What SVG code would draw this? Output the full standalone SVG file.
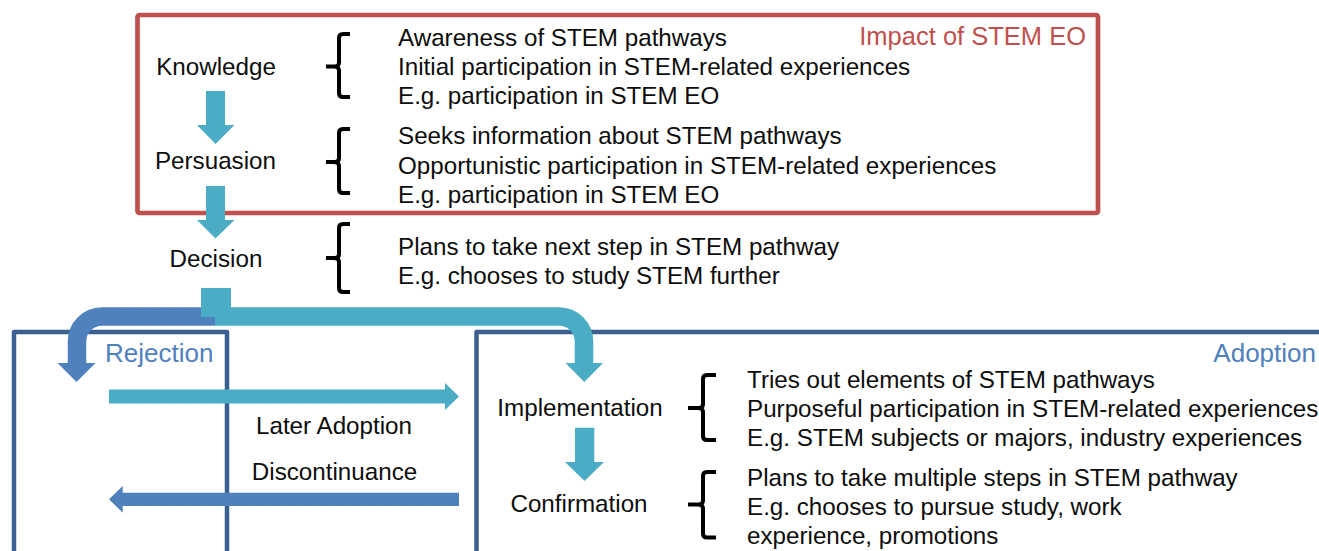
<svg xmlns="http://www.w3.org/2000/svg" width="1319" height="551" viewBox="0 0 1319 551">
<style>
text{font-family:"Liberation Sans",Arial,sans-serif;font-size:24.2px;fill:#0d0d0d}
.mid{text-anchor:middle}
.red{fill:#c0504d;font-size:25.5px}
.blu{fill:#4f81bd;font-size:26px}
.brace{fill:none;stroke:#000;stroke-width:4;stroke-linejoin:round}
.box{fill:none;stroke:#3b5f8f;stroke-width:4.5;stroke-linejoin:round}
.teal{fill:#4bacc6}
.bluef{fill:#4f81bd}
</style>
<rect width="1319" height="551" fill="#fff"/>
<g id="impact-box">
<rect x="137.5" y="15" width="960.5" height="198" rx="2" fill="none" stroke="#c0504d" stroke-width="4.7"/>
<text x="1086" y="45" text-anchor="end" class="red">Impact of STEM EO</text>
</g>
<g id="rejection-box">
<path class="box" d="M14 560 V332 H227 V560"/>
<text x="105" y="362" class="blu">Rejection</text>
</g>
<g id="adoption-box">
<path class="box" d="M476.5 560 V332 H1330"/>
<text x="1316" y="362" text-anchor="end" class="blu">Adoption</text>
</g>
<g id="knowledge">
<text x="216" y="75" class="mid">Knowledge</text>
<path class="brace" d="M350 34 H343 Q339 34 339 38 V62.5 Q339 66.5 334 66.5 H326 M334 66.5 Q339 66.5 339 70.5 V93 Q339 97 343 97 H350"/>
<text x="398" y="46">Awareness of STEM pathways</text>
<text x="398" y="75">Initial participation in STEM-related experiences</text>
<text x="398" y="104">E.g. participation in STEM EO</text>
</g>
<g id="persuasion">
<text x="215.5" y="169" class="mid">Persuasion</text>
<path class="brace" d="M350 129 H343 Q339 129 339 133 V158 Q339 162 334 162 H326 M334 162 Q339 162 339 166 V189 Q339 193 343 193 H350"/>
<text x="398" y="144">Seeks information about STEM pathways</text>
<text x="398" y="174">Opportunistic participation in STEM-related experiences</text>
<text x="398" y="203">E.g. participation in STEM EO</text>
</g>
<g id="decision">
<text x="216" y="267" class="mid">Decision</text>
<path class="brace" d="M350 224 H343 Q339 224 339 228 V254 Q339 258 334 258 H326 M334 258 Q339 258 339 262 V288 Q339 292 343 292 H350"/>
<text x="398" y="255">Plans to take next step in STEM pathway</text>
<text x="398" y="284">E.g. chooses to study STEM further</text>
</g>
<g id="implementation">
<text x="580" y="416" class="mid">Implementation</text>
<path class="brace" d="M716 375 H707 Q703 375 703 379 V404 Q703 408 698 408 H688 M698 408 Q703 408 703 412 V436 Q703 440 707 440 H716"/>
<text x="747" y="388">Tries out elements of STEM pathways</text>
<text x="747" y="417">Purposeful participation in STEM-related experiences</text>
<text x="747" y="446">E.g. STEM subjects or majors, industry experiences</text>
</g>
<g id="confirmation">
<text x="579" y="512" class="mid">Confirmation</text>
<path class="brace" d="M716 472 H707 Q703 472 703 476 V500.5 Q703 504.5 698 504.5 H688 M698 504.5 Q703 504.5 703 508.5 V533.5 Q703 537.5 707 537.5 H716"/>
<text x="747" y="486">Plans to take multiple steps in STEM pathway</text>
<text x="747" y="515">E.g. chooses to pursue study, work</text>
<text x="747" y="544">experience, promotions</text>
</g>
<g id="connectors">
<polygon class="teal" points="206,91 225,91 225,125 234.5,125 215.5,144 197,125 206,125"/>
<polygon class="teal" points="206,186 225,186 225,220 234.5,220 215.5,238.5 197,220 206,220"/>
<path d="M215 316.5 H102 A25 25 0 0 0 77 341.5 V364" fill="none" stroke="#4f81bd" stroke-width="18.5"/>
<polygon class="bluef" points="57.5,363 95.5,363 76.5,382"/>
<rect class="teal" x="201" y="288" width="30" height="29"/>
<path d="M215 316.5 H559 A25 25 0 0 1 584 341.5 V364" fill="none" stroke="#4bacc6" stroke-width="18.5"/>
<polygon class="teal" points="565.5,363 603,363 584.3,382"/>
<polygon class="teal" points="109,389.5 445,389.5 445,383 459,396.5 445,410 445,403.5 109,403.5"/>
<text x="334" y="434" class="mid">Later Adoption</text>
<text x="334.5" y="480" class="mid">Discontinuance</text>
<polygon class="bluef" points="459,492.7 122.7,492.7 122.7,486 109,499.3 122.7,512.7 122.7,506 459,506"/>
<polygon class="teal" points="575,427.7 594.3,427.7 594.3,462 604,462 584.6,481 565,462 575,462"/>
</g>
</svg>
